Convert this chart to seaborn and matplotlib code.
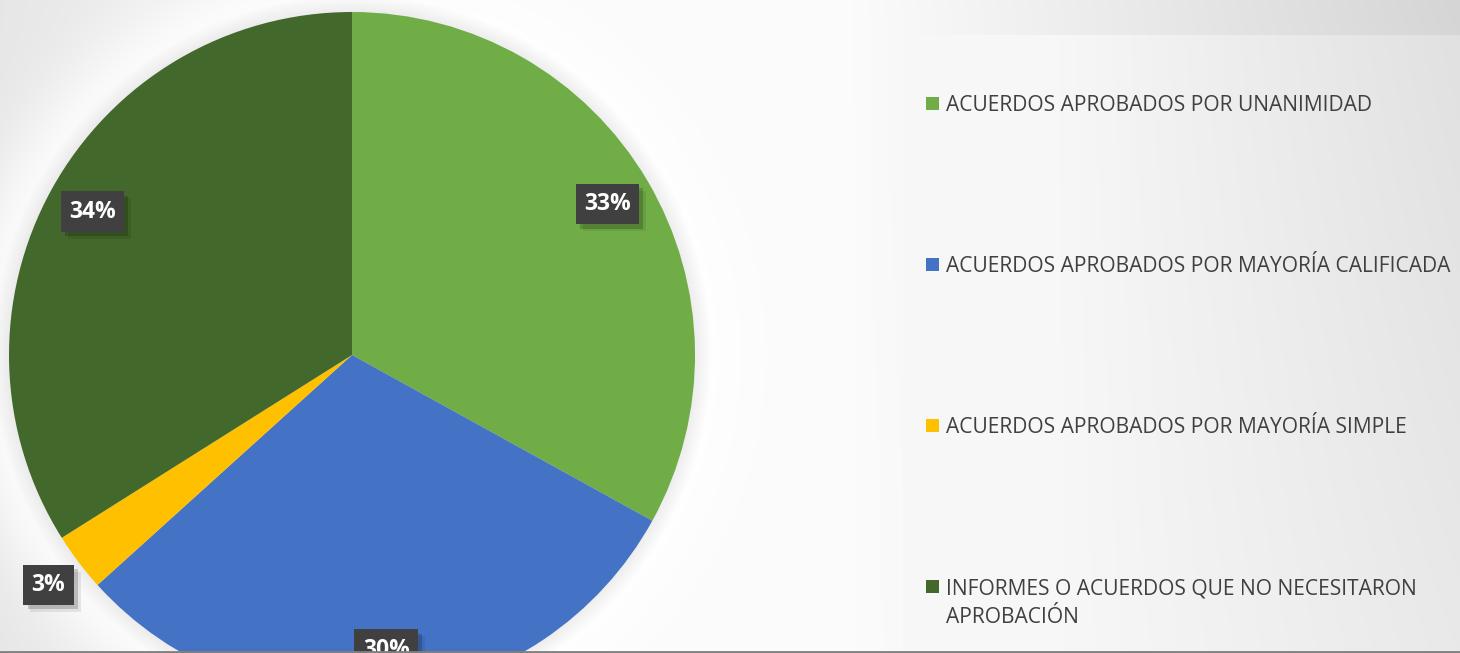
import numpy as np
import matplotlib
matplotlib.use("Agg")
import matplotlib.pyplot as plt
import matplotlib.patheffects as pe
from matplotlib.patches import Rectangle, Circle
from matplotlib.lines import Line2D
import seaborn as sns

# --- data ---
categories = [
    "ACUERDOS APROBADOS POR UNANIMIDAD",
    "ACUERDOS APROBADOS POR MAYORÍA CALIFICADA",
    "ACUERDOS APROBADOS POR MAYORÍA SIMPLE",
    "INFORMES O ACUERDOS QUE NO NECESITARON\nAPROBACIÓN",
]
counts = [36, 33, 3, 37]
slice_colors = ["#70AD47", "#4472C4", "#FFC000", "#43682B"]

sns.set_theme(style="white")
plt.rcParams["font.family"] = ["Open Sans", "DejaVu Sans"]

W, H = 1460, 653
fig = plt.figure(figsize=(W / 100, H / 100), dpi=100)

# --- background layer in pixel coords ---
bg = fig.add_axes([0, 0, 1, 1], zorder=0)
bg.set_xlim(0, W)
bg.set_ylim(H, 0)
bg.axis("off")

cx, cy, R = 352, 355, 343
xx, yy = np.meshgrid(np.arange(W), np.arange(H))
v = 0.985 - 0.08 * np.clip(1 - xx / 480, 0, 1)
v = v - 0.15 * np.clip((xx - 850) / 610, 0, 1) * (1 - 0.45 * yy / H)
d = np.hypot(xx - cx, yy - cy)
glow = np.exp(-((d - R) / 60.0) ** 2) * (d > R)
v = v + (1 - v) * glow * 0.85
bg.imshow(np.dstack([v, v, v]), extent=[0, W, H, 0], aspect="auto", zorder=0)

# soft shadow around the pie
for r in range(R + 16, R, -2):
    bg.add_patch(Circle((cx, cy), r, color="black", alpha=0.009, lw=0, zorder=1))

# legend panel
lx0, ly0 = 903, 35
lxx, lyy = np.meshgrid(np.linspace(0, 1, 300), np.linspace(0, 1, 300))
lv = 0.972 - 0.09 * np.clip((lxx - 0.25) / 0.75, 0, 1) * (1 - 0.35 * lyy)
bg.imshow(np.dstack([lv, lv, lv]), extent=[lx0, W, H, ly0], aspect="auto", zorder=2)

# legend entries
for i, (lab, col) in enumerate(zip(categories, sns.color_palette(slice_colors))):
    yc = 103 + i * 161
    bg.add_patch(Rectangle((926, yc - 6.5), 13, 13, color=col, lw=0, zorder=3))
    for k, line in enumerate(lab.split("\n")):
        bg.text(946, yc + 8 + k * 29, line, fontsize=15.1, color="#404040",
                va="baseline", ha="left", zorder=4)

# --- pie ---
ax = fig.add_axes([(cx - R) / W, (H - cy - R) / H, 2 * R / W, 2 * R / H], zorder=1)
ax.patch.set_visible(False)
wedges, _ = ax.pie(counts, colors=sns.color_palette(slice_colors), startangle=90,
                   counterclock=False, radius=1, wedgeprops=dict(linewidth=0))
ax.set_xlim(-1, 1)
ax.set_ylim(-1, 1)

total = sum(counts)
for w, c in zip(wedges, counts):
    mid = np.deg2rad((w.theta1 + w.theta2) / 2)
    dist = 0.865 if c / total > 0.05 else 1.11
    x, y = dist * np.cos(mid), dist * np.sin(mid)
    t = ax.text(x, y, f"{c / total:.0%}", ha="center", va="center", fontsize=16.5,
                fontweight="bold", color="white", clip_on=False,
                bbox=dict(boxstyle="square,pad=0.36", fc="#404040", ec="none"))
    # drop shadow under the label box
    t.get_bbox_patch().set_path_effects([
        pe.SimplePatchShadow(offset=(5, -5), shadow_rgbFace="black", alpha=0.08),
        pe.SimplePatchShadow(offset=(3, -3), shadow_rgbFace="black", alpha=0.18),
        pe.Normal(),
    ])

fig.add_artist(Line2D([0, 1], [1.5 / H, 1.5 / H], color="#7f7f7f", lw=2, zorder=10))

fig.savefig("out.png", dpi=100)
